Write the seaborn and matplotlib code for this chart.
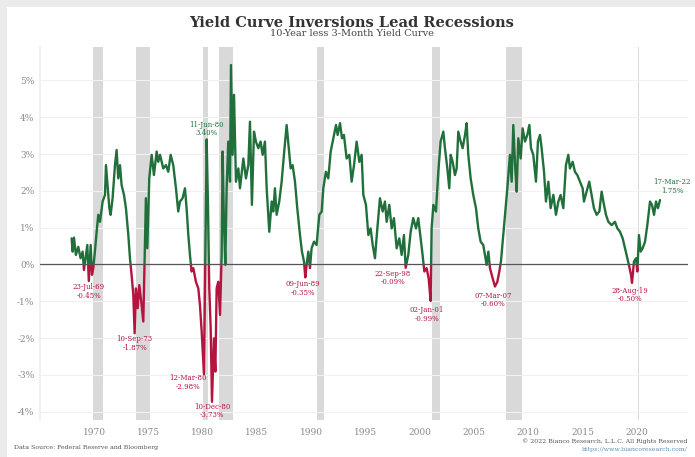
import pandas as pd
import matplotlib
matplotlib.use('Agg')
import matplotlib.pyplot as plt
from matplotlib.patches import Rectangle
import seaborn as sns

# 10-year less 3-month spread (%)
years_1968_83 = [1967.91, 1968.01, 1968.13, 1968.31, 1968.53, 1968.74, 1968.93, 1969.05, 1969.24, 1969.36,
                 1969.50, 1969.67, 1969.79, 1969.91, 1970.06, 1970.22, 1970.37, 1970.53, 1970.77, 1970.99,
                 1971.08, 1971.20, 1971.39, 1971.51, 1971.69, 1971.91, 1972.06, 1972.21, 1972.37, 1972.52,
                 1972.74, 1972.92, 1973.14, 1973.29, 1973.44, 1973.60, 1973.72, 1973.84, 1974.00, 1974.15,
                 1974.33, 1974.52, 1974.64, 1974.76, 1974.89, 1975.07, 1975.29, 1975.50, 1975.75, 1975.90,
                 1976.06, 1976.36, 1976.61, 1976.82, 1977.04, 1977.28, 1977.53, 1977.74, 1977.90, 1978.14,
                 1978.36, 1978.51, 1978.67, 1978.82, 1978.97, 1979.13, 1979.37, 1979.59, 1979.74, 1979.90,
                 1980.11, 1980.23, 1980.36, 1980.48, 1980.60, 1980.73, 1980.85, 1981.03, 1981.16, 1981.28,
                 1981.43, 1981.59, 1981.74, 1981.83, 1981.95, 1982.08, 1982.20, 1982.35, 1982.51, 1982.60,
                 1982.75, 1982.88, 1983.06, 1983.28]
spread_1968_83 = [0.71, 0.35, 0.73, 0.26, 0.48, 0.17, 0.35, -0.15, 0.26, 0.53,
                  -0.45, 0.53, -0.28, -0.10, 0.35, 0.89, 1.35, 1.16, 1.71, 1.89,
                  2.70, 2.25, 1.53, 1.35, 1.80, 2.70, 3.11, 2.34, 2.70, 2.16,
                  1.89, 1.53, 0.80, 0.17, -0.28, -0.83, -1.87, -0.65, -1.19, -0.56,
                  -1.01, -1.55, 0.08, 1.80, 0.44, 2.34, 2.98, 2.43, 3.07, 2.79,
                  2.98, 2.61, 2.70, 2.52, 2.98, 2.70, 2.07, 1.44, 1.71, 1.80,
                  2.07, 1.53, 0.80, 0.26, -0.19, -0.10, -0.47, -0.65, -1.10, -1.82,
                  -2.98, 0.08, 3.40, 1.62, -0.65, -1.73, -3.73, -2.01, -2.91, -0.65,
                  -0.47, -1.37, 0.26, 3.07, 1.16, -0.01, 2.07, 3.34, 2.25, 5.42,
                  2.98, 4.61, 2.25, 2.61]

years_1983_01 = [1983.43, 1983.74, 1983.98, 1984.20, 1984.35, 1984.53, 1984.72, 1984.90, 1985.12, 1985.33,
                 1985.52, 1985.73, 1985.89, 1986.13, 1986.35, 1986.50, 1986.65, 1986.81, 1987.05, 1987.27,
                 1987.48, 1987.73, 1987.98, 1988.10, 1988.28, 1988.50, 1988.71, 1988.96, 1989.14, 1989.33,
                 1989.45, 1989.57, 1989.73, 1989.88, 1990.03, 1990.25, 1990.49, 1990.74, 1990.96, 1991.11,
                 1991.35, 1991.57, 1991.79, 1992.03, 1992.28, 1992.43, 1992.65, 1992.83, 1993.01, 1993.26,
                 1993.51, 1993.72, 1993.94, 1994.18, 1994.43, 1994.64, 1994.80, 1995.04, 1995.26, 1995.47,
                 1995.66, 1995.87, 1996.09, 1996.33, 1996.58, 1996.79, 1996.95, 1997.19, 1997.41, 1997.62,
                 1997.87, 1998.11, 1998.33, 1998.54, 1998.70, 1998.94, 1999.16, 1999.40, 1999.65, 1999.86,
                 2000.08, 2000.26, 2000.42, 2000.63, 2000.82, 2001.00]
spread_1983_01 = [2.07, 2.88, 2.34, 2.70, 3.88, 1.62, 3.61, 3.34, 3.16, 3.34,
                  2.98, 3.34, 2.07, 0.89, 1.71, 1.44, 2.07, 1.35, 1.71, 2.25,
                  2.98, 3.79, 2.98, 2.61, 2.70, 2.25, 1.53, 0.80, 0.35, 0.08,
                  -0.35, -0.01, 0.35, -0.10, 0.44, 0.62, 0.53, 1.35, 1.44, 2.07,
                  2.52, 2.34, 3.07, 3.43, 3.79, 3.52, 3.84, 3.43, 3.52, 2.88,
                  2.98, 2.25, 2.70, 3.34, 2.79, 2.98, 1.89, 1.62, 0.80, 0.98,
                  0.53, 0.17, 0.98, 1.80, 1.44, 1.71, 1.16, 1.62, 0.98, 1.26,
                  0.44, 0.71, 0.26, 0.80, -0.09, 0.26, 0.89, 1.26, 0.98, 1.26,
                  0.71, 0.26, -0.19, -0.10, -0.38, -0.99]

years_2001_22 = [2001.09, 2001.25, 2001.49, 2001.71, 2001.92, 2002.17, 2002.32, 2002.54, 2002.72, 2002.85,
                 2003.03, 2003.24, 2003.40, 2003.55, 2003.77, 2003.95, 2004.17, 2004.32, 2004.47, 2004.69,
                 2004.93, 2005.18, 2005.39, 2005.61, 2005.85, 2006.01, 2006.16, 2006.32, 2006.47, 2006.72,
                 2006.93, 2007.15, 2007.33, 2007.48, 2007.64, 2007.85, 2008.07, 2008.31, 2008.47, 2008.62,
                 2008.80, 2008.93, 2009.08, 2009.30, 2009.48, 2009.70, 2009.91, 2010.10, 2010.25, 2010.46,
                 2010.71, 2010.89, 2011.08, 2011.23, 2011.45, 2011.63, 2011.85, 2012.06, 2012.31, 2012.55,
                 2012.77, 2012.98, 2013.23, 2013.47, 2013.69, 2013.84, 2014.09, 2014.30, 2014.52, 2014.77,
                 2015.01, 2015.13, 2015.38, 2015.62, 2015.84, 2016.05, 2016.30, 2016.55, 2016.76, 2016.92,
                 2017.16, 2017.38, 2017.68, 2017.99, 2018.21, 2018.45, 2018.70, 2018.91, 2019.13, 2019.31,
                 2019.47, 2019.56, 2019.74, 2019.93, 2020.05, 2020.20, 2020.36, 2020.54, 2020.76, 2020.97,
                 2021.22, 2021.40, 2021.59, 2021.77, 2021.95, 2022.14]
spread_2001_22 = [0.98, 1.62, 1.44, 2.52, 3.34, 3.61, 3.16, 2.61, 2.07, 2.98,
                  2.79, 2.43, 2.61, 3.61, 3.34, 3.16, 3.52, 3.84, 2.98, 2.34,
                  1.89, 1.53, 0.98, 0.62, 0.53, 0.26, -0.01, 0.35, -0.10, -0.38,
                  -0.60, -0.47, -0.19, 0.08, 0.62, 1.35, 2.07, 2.98, 2.25, 3.79,
                  2.61, 1.98, 3.43, 2.88, 3.70, 3.34, 3.52, 3.79, 3.16, 2.98,
                  2.25, 3.34, 3.52, 3.16, 2.52, 1.71, 2.25, 1.53, 1.89, 1.35,
                  1.71, 1.89, 1.53, 2.70, 2.98, 2.61, 2.79, 2.52, 2.43, 2.25,
                  2.07, 1.71, 1.98, 2.25, 1.89, 1.53, 1.35, 1.44, 1.98, 1.71,
                  1.35, 1.16, 1.07, 1.16, 0.98, 0.89, 0.71, 0.44, 0.17, -0.06,
                  -0.29, -0.50, 0.08, 0.17, -0.19, 0.80, 0.35, 0.44, 0.62, 1.07,
                  1.71, 1.62, 1.35, 1.71, 1.53, 1.75]

# NBER recessions
rec_start = [1969.92, 1973.83, 1980.0, 1981.5, 1990.5, 2001.17, 2007.92, 2020.08]
rec_end = [1970.83, 1975.17, 1980.5, 1982.83, 1991.17, 2001.83, 2009.42, 2020.25]

# labelled extremes
ann_years = [1969.50, 1973.72, 1980.11, 1980.36, 1980.85, 1989.45, 1998.70, 2001.00, 2006.93, 2019.56, 2022.14]
ann_values = [-0.45, -1.87, -2.98, 3.40, -3.73, -0.35, -0.09, -0.99, -0.60, -0.50, 1.75]
ann_dates = ['23-Jul-69', '10-Sep-73', '12-Mar-80', '11-Jun-80', '10-Dec-80', '09-Jun-89',
             '22-Sep-98', '02-Jan-01', '07-Mar-07', '28-Aug-19', '17-Mar-22']
ann_offsets = [(0, -2), (0, -2), (-16, 0), (0, 2), (0, -1), (-2, -3), (-13, -2), (-4, -5), (-2, -5), (-2, -4), (12, 5)]

x_ticks = [1970, 1975, 1980, 1985, 1990, 1995, 2000, 2005, 2010, 2015, 2020]
y_ticks = [-4, -3, -2, -1, 0, 1, 2, 3, 4, 5]

green = '#21703c'
red = '#b3153f'

df = pd.DataFrame({'year': years_1968_83 + years_1983_01 + years_2001_22,
                   'spread': spread_1968_83 + spread_1983_01 + spread_2001_22})

sns.set_theme(style='white')
plt.rcParams['font.family'] = ['DejaVu Serif']

fig = plt.figure(figsize=(6.95, 4.57), dpi=100)
fig.patch.set_facecolor('#ebebeb')
fig.add_artist(Rectangle((7 / 695, 0), 1, 1 - 7 / 457, transform=fig.transFigure,
                         facecolor='white', edgecolor='none', zorder=-1))
ax = fig.add_axes([40 / 695, 1 - 420 / 457, 648 / 695, 373 / 457])
ax.set_facecolor('none')

for s, e in zip(rec_start, rec_end):
    ax.axvspan(s, e, color='#d9d9d9', lw=0, zorder=0)

# positive part green, negative part red
sns.lineplot(data=df, x='year', y='spread', color=green, lw=1.7, estimator=None, sort=False, ax=ax)
ax.lines[-1].set_clip_path(Rectangle((1960, 0), 70, 20, transform=ax.transData))
sns.lineplot(data=df, x='year', y='spread', color=red, lw=1.7, estimator=None, sort=False, ax=ax)
ax.lines[-1].set_clip_path(Rectangle((1960, -20), 70, 20, transform=ax.transData))

ax.axhline(0, color='#555555', lw=0.9, zorder=3)

for yr, v, d, off in zip(ann_years, ann_values, ann_dates, ann_offsets):
    col = green if v > 0 else red
    va = 'bottom' if v > 0 else 'top'
    ax.annotate(f'{d}\n{v:.2f}%', xy=(yr, v), xytext=off, textcoords='offset pixels',
                ha='center', va=va, fontsize=5, color=col, linespacing=1.1)

ax.set_xlim(1965.0, 2024.72)
ax.set_ylim(-4.226, 5.91)
ax.set_xticks(x_ticks)
ax.set_yticks(y_ticks)
ax.set_yticklabels([f'{v}%' for v in y_ticks])
ax.tick_params(axis='both', length=0, labelsize=6.5, labelcolor='#8a8a8a')
ax.tick_params(axis='x', pad=6)
ax.tick_params(axis='y', pad=4)
ax.set_xlabel('')
ax.set_ylabel('')
ax.yaxis.grid(True, color='#f1f1f1', lw=0.8)
ax.set_axisbelow(True)
for side in ['top', 'right', 'bottom']:
    ax.spines[side].set_visible(False)
ax.spines['left'].set_color('#eeeeee')

fig.text(352 / 695, 1 - 23 / 457, 'Yield Curve Inversions Lead Recessions', ha='center', va='center',
         fontsize=10.5, fontweight='bold', color='#333333')
fig.text(352 / 695, 1 - 34 / 457, '10-Year less 3-Month Yield Curve', ha='center', va='center',
         fontsize=7, color='#444444')
fig.text(14 / 695, 1 - 447 / 457, 'Data Source: Federal Reserve and Bloomberg', ha='left', va='center',
         fontsize=4.5, color='#555555')
fig.text(688 / 695, 1 - 441 / 457, '\u00a9 2022 Bianco Research, L.L.C. All Rights Reserved', ha='right',
         va='center', fontsize=4.5, color='#555555')
fig.text(688 / 695, 1 - 449 / 457, 'https://www.biancoresearch.com/', ha='right', va='center',
         fontsize=4.5, color='#5b8fb5')

fig.savefig('out.png', dpi=100)
